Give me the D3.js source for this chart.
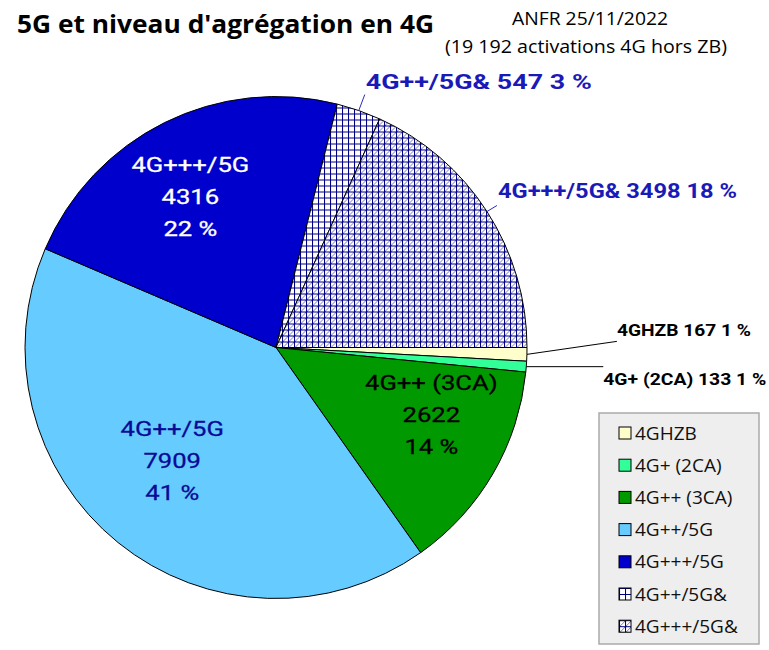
<!DOCTYPE html>
<html>
<head>
<meta charset="utf-8">
<script src="https://cdn.jsdelivr.net/npm/d3@7"></script>
<style>
	body { margin: 0; background: #fff; }
	svg { display: block; }
</style>
</head>
<body>
<svg id="chart" width="769" height="650"></svg>
<script>
// data (ANFR 25/11/2022)
const categories = ["4GHZB", "4G+ (2CA)", "4G++ (3CA)", "4G++/5G", "4G+++/5G", "4G++/5G&", "4G+++/5G&"]
const counts     = [167, 133, 2622, 7909, 4316, 547, 3498]
const titleText  = "5G et niveau d'agrégation en 4G"
const sourceText = "ANFR 25/11/2022"

// styles
const fills = ["#FFFFCC", "#33FF99", "#009900", "#66CCFF", "#0000CC", "url(#grid)", "url(#gridDiag)"]
// inside labels: colour and a small nudge from the centroid
const inside = {
	"4G++ (3CA)": {color: "#000000", nudge: [10, -18]},
	"4G++/5G":    {color: "#0A0A96", nudge: [2, -18]},
	"4G+++/5G":   {color: "#FFFFFF", nudge: [-11, 0]}
}
// outside labels: leader end offset from slice edge, then text offset from leader end
const outside = {
	"4GHZB":     {end: [90, -13], txt: [0, -5],  color: "#000000", size: 16, len: 134, weight: 700},
	"4G+ (2CA)": {end: [77, 0],   txt: [0, 18],  color: "#000000", size: 16, len: 163, weight: 700},
	"4G++/5G&":  {end: [6, -16],  txt: [1, -6],  color: "#1A1AB8", size: 21, len: 226, weight: 700},
	"4G+++/5G&": {end: [10, -6],  txt: [1, -8],  color: "#1A1AB8", size: 21, len: 239, weight: 700}
}

const svg = d3.select("#chart")
const cx = 276, cy = 347.5, r = 251

const total = d3.sum(counts)
const fmtInt = n => d3.format(",")(n).replace(/,/g, " ")
const pct = v => Math.round(v / total * 100) + " %"

// hatch patterns
const defs = svg.append("defs")
const grid = defs.append("pattern").attr("id", "grid")
	.attr("patternUnits", "userSpaceOnUse").attr("width", 6).attr("height", 6)
grid.append("rect").attr("width", 6).attr("height", 6).attr("fill", "#fff")
grid.append("path").attr("d", "M0,0.5H6M0.5,0V6")
	.attr("stroke", "#000080").attr("stroke-width", 1.1)

const gridDiag = defs.append("pattern").attr("id", "gridDiag")
	.attr("patternUnits", "userSpaceOnUse").attr("width", 6).attr("height", 6)
gridDiag.append("rect").attr("width", 6).attr("height", 6).attr("fill", "#fff")
gridDiag.append("path").attr("d", "M1,6L6,1")
	.attr("stroke", "#7A7AC4").attr("stroke-width", 1)
gridDiag.append("path").attr("d", "M0,0.5H6M0.5,0V6")
	.attr("stroke", "#000080").attr("stroke-width", 1.1)

// title block
svg.append("text")
	.attr("x", 17).attr("y", 33)
	.attr("textLength", 417).attr("lengthAdjust", "spacingAndGlyphs")
	.style("font-family", "'Open Sans', sans-serif")
	.style("font-weight", "bold").style("font-size", "25px")
	.text(titleText)

svg.append("text")
	.attr("x", 590).attr("y", 25).attr("text-anchor", "middle")
	.attr("textLength", 156).attr("lengthAdjust", "spacingAndGlyphs")
	.style("font-family", "'Open Sans', sans-serif").style("font-size", "19px")
	.text(sourceText)

svg.append("text")
	.attr("x", 586).attr("y", 53).attr("text-anchor", "middle")
	.attr("textLength", 282).attr("lengthAdjust", "spacingAndGlyphs")
	.style("font-family", "'Open Sans', sans-serif").style("font-size", "19px")
	.text("(" + fmtInt(total) + " activations 4G hors ZB)")

// pie
const rows = categories.map((c, i) => ({name: c, value: counts[i], fill: fills[i]}))
const pie = d3.pie().sort(null).value(d => d.value)
	.startAngle(Math.PI / 2).endAngle(Math.PI / 2 + 2 * Math.PI)
const arcs = pie(rows)

const arc = d3.arc().innerRadius(0).outerRadius(r)
const labelArc = d3.arc().innerRadius(r * 0.67).outerRadius(r * 0.67)
const edgeArc = d3.arc().innerRadius(r).outerRadius(r)

const g = svg.append("g").attr("transform", "translate(" + cx + "," + cy + ")")

g.selectAll("path.slice")
	.data(arcs)
	.join("path")
	.attr("class", "slice")
	.attr("d", arc)
	.attr("fill", d => d.data.fill)
	.attr("stroke", "#000")
	.attr("stroke-width", 1)
	.attr("stroke-linejoin", "round")

// inside labels: name / count / percent (Roboto, a bit widened like the source)
const inG = g.selectAll("g.inlab")
	.data(arcs.filter(d => inside[d.data.name]))
	.join("g")
	.attr("class", "inlab")
	.attr("transform", d => {
		const c = labelArc.centroid(d), n = inside[d.data.name].nudge
		return "translate(" + (c[0] + n[0]) + "," + (c[1] + n[1]) + ") scale(1.22,1)"
	})

inG.selectAll("text")
	.data(d => [d.data.name, String(d.data.value), pct(d.data.value)]
		.map((t, i) => ({t: t, i: i, color: inside[d.data.name].color})))
	.join("text")
	.attr("text-anchor", "middle")
	.attr("y", d => (d.i - 1) * 32 + 7.5)
	.attr("fill", d => d.color)
	.attr("stroke", d => d.color)
	.attr("stroke-width", 0.3)
	.style("font-family", "Roboto, sans-serif")
	.style("font-size", "21px")
	.text(d => d.t)

// outside labels with leader lines
const outArcs = arcs.filter(d => outside[d.data.name])
outArcs.forEach(d => {
	const o = outside[d.data.name]
	const p = edgeArc.centroid(d)
	const e = [p[0] + o.end[0], p[1] + o.end[1]]
	g.append("line")
		.attr("x1", p[0]).attr("y1", p[1])
		.attr("x2", e[0]).attr("y2", e[1])
		.attr("stroke", o.color === "#000000" ? "#000" : "#2A2AC8")
		.attr("stroke-width", 1)
	g.append("text")
		.attr("x", e[0] + o.txt[0]).attr("y", e[1] + o.txt[1])
		.attr("fill", o.color)
		.attr("textLength", o.len).attr("lengthAdjust", "spacingAndGlyphs")
		.style("font-family", "Roboto, sans-serif")
		.style("font-weight", o.weight)
		.style("font-size", o.size + "px")
		.text(d.data.name + " " + d.data.value + " " + pct(d.data.value))
})

// legend
const lg = svg.append("g").attr("transform", "translate(599,413)")
lg.append("rect")
	.attr("width", 160).attr("height", 231)
	.attr("fill", "#EEEEEE").attr("stroke", "#AAAAAA").attr("stroke-width", 1.5)

const item = lg.selectAll("g.item")
	.data(rows)
	.join("g")
	.attr("class", "item")
	.attr("transform", (d, i) => "translate(20," + (20 + i * 32.2) + ")")

item.append("rect")
	.attr("x", 0).attr("y", -6).attr("width", 12).attr("height", 12)
	.attr("fill", d => d.fill)
	.attr("stroke", "#000").attr("stroke-width", 1)

item.append("text")
	.attr("x", 16).attr("y", 6.5)
	.style("font-family", "'Open Sans', sans-serif")
	.style("font-size", "19px")
	.attr("fill", "#111")
	.text(d => d.name)
</script>
</body>
</html>
